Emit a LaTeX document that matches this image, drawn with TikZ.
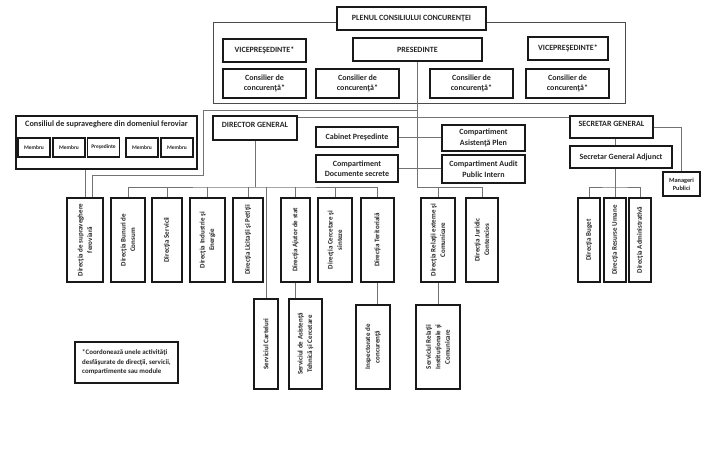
\documentclass[tikz,border=0pt]{standalone}
\usepackage{fontspec}
\setmainfont{Carlito}
\usepackage{tikz}
\usetikzlibrary{calc}

\begin{document}
\begin{tikzpicture}[x=1pt,y=-1pt,
  box/.style={draw=black!90,line width=1.6pt,fill=white,align=center,inner sep=1pt,text=black!85,
    font=\bfseries\fontsize{8}{10.5}\selectfont},
  topbox/.style={box,text height=6pt,text depth=8pt},
  vbox/.style={box,rotate=90,minimum width=84,font=\bfseries\fontsize{7}{9.5}\selectfont},
  mbox/.style={box,line width=1.2pt,minimum width=32,minimum height=19,font=\bfseries\fontsize{5.5}{6}\selectfont},
  conn/.style={draw=black!55,line width=0.8pt},
  frame/.style={draw=black!70,line width=0.8pt}]
  \useasboundingbox (0,0) rectangle (728,452);

  \draw[frame] (213,22) rectangle (625,103);
  \node[box,minimum width=149,minimum height=23] (plen) at (411.5,18.5) {PLENUL CONSILIULUI CONCURENŢEI};
  \node[box,minimum width=83,minimum height=23] (vp1) at (264.5,50.5) {VICEPREŞEDINTE*};
  \node[box,minimum width=129,minimum height=23] (pres) at (417.5,49.5) {PRESEDINTE};
  \node[box,minimum width=80,minimum height=23] (vp2) at (568,48.5) {VICEPREŞEDINTE*};
  \foreach \x [count=\i] in {264.5,357.5,471.5,567.5}
    {\node[box,minimum width=83,minimum height=29] (cons\i) at (\x,83.5) {Consilier de\\concurenţă*};}

  \node[box,minimum width=181,minimum height=53] (csf) at (106.5,142.5) {};
  \node[text=black!85,font=\bfseries\fontsize{8.2}{9}\selectfont] (csft) at (106.5,124) {Consiliul de supraveghere din domeniul feroviar};
  \foreach \x/\t [count=\i] in {34/Membru,69/Membru,103.5/Preşedinte,142/Membru,177/Membru}
    {\node[mbox] (m\i) at (\x,147.5) {\t};}

  \node[topbox,minimum width=84,minimum height=24] (dg) at (255,128) {DIRECTOR GENERAL};
  \node[box,minimum width=82,minimum height=20] (cab) at (357,137) {Cabinet Preşedinte};
  \node[box,minimum width=82,minimum height=27] (doc) at (357,168.5) {Compartiment\\Documente secrete};
  \node[box,minimum width=83,minimum height=26] (asp) at (483.5,138) {Compartiment\\Asistenţă Plen};
  \node[box,minimum width=83,minimum height=28] (aud) at (483.5,169) {Compartiment Audit\\Public Intern};
  \node[topbox,minimum width=83,minimum height=22] (sg) at (611.5,127) {SECRETAR GENERAL};
  \node[box,minimum width=102,minimum height=22] (sga) at (621,157) {Secretar General Adjunct};
  \node[box,minimum width=37,minimum height=24,font=\bfseries\fontsize{6.3}{8}\selectfont] (mp) at (681.5,184) {Manageri\\Publici};

  \foreach \n/\x/\w/\t in {d1/85/36/{Direcţia de supraveghere\\feroviară},
      d2/128/34/{Direcţia Bunuri de\\Consum}, d3/167/30/{Direcţia Servicii},
      d4/207.5/35/{Direcţia Industrie şi\\Energie}, d5/248/30/{Direcţia Licitaţii şi Petiţii},
      d6/295.5/29/{Direcţia Ajutor de stat}, d7/335/34/{Direcţia Cercetare şi\\sinteze},
      d8/377.5/33/{Direcţia Teritorială}, d9/438/34/{Direcţia Relaţii externe şi\\Comunicare},
      d10/482/32/{Direcţia Juridic\\Contencios}, d11/589/22/{Direcţia Buget},
      d12/615/22/{Direcţia Resurse Umane}, d13/640/22/{Direcţia Administrativă}}
    {\node[vbox,minimum height=\w] (\n) at (\x,240) {\t};}
  \foreach \n/\x/\y/\h/\w/\t in {s1/266/344/90/24/{Serviciul Carteluri},
      s2/305.5/344/90/33/{Serviciul de Asistenţă\\Tehnică şi Cercetare},
      s3/373/347/84/34/{Inspectorate de\\concurenţă},
      s4/438/347/84/44/{Serviciul Relaţii\\Instituţionale şi\\Comunicare}}
    {\node[vbox,minimum width=\h,minimum height=\w] (\n) at (\x,\y) {\t};}

  \node[box,line width=1.2pt,minimum width=103,minimum height=41,align=left,
    font=\bfseries\fontsize{6.9}{9.5}\selectfont] (nota) at (126.5,362.5)
    {*Coordonează unele activităţi\\ desfăşurate de direcţii, servicii,\\ compartimente sau module};

  \coordinate (pj) at (417.5,110);
  \coordinate (bend) at (203,175);
  \coordinate (pbus) at (417.5,187);
  \coordinate (dbus) at (256,187);
  \coordinate (sbus) at (615,187);

  \draw[conn] (pres.south) |- (d10.east |- pbus) -- (d10.east);
  \draw[conn] (d9.east |- pbus) -- (d9.east);
  \draw[conn] (pj) -| (bend) -| ($(d1.east)+(7,0)$);
  \draw[conn] (d1.east |- csf.south) -- (d1.east);
  \draw[conn] ($(dg.north east)+(0,2.5)$) -- ($(sg.north west)+(0,2.5)$);
  \draw[conn] (cab.east) -- (cab.east -| asp.west);
  \draw[conn] (doc.east) -- (doc.east -| aud.west);
  \draw[conn] (dg.south) -- (dg.south |- dbus);
  \draw[conn] (d2.east) |- (dbus) -| (d8.east);
  \foreach \n in {d3,d4,d5,d6,d7,s1}{\draw[conn] (\n.east |- dbus) -- (\n.east);}
  \draw[conn] (d6.west) -- (d6.west |- s2.east);
  \draw[conn] (d8.west) -- (d8.west |- s3.east);
  \draw[conn] (d9.west) -- (d9.west |- s4.east);
  \draw[conn] (sg.east) -| (mp.north);
  \draw[conn] (sg.south -| d12.east) -- (sga.north -| d12.east);
  \draw[conn] (sga.south -| d12.east) -- (d12.east);
  \draw[conn] (d11.east) |- (sbus) -| (d13.east);
\end{tikzpicture}
\end{document}
